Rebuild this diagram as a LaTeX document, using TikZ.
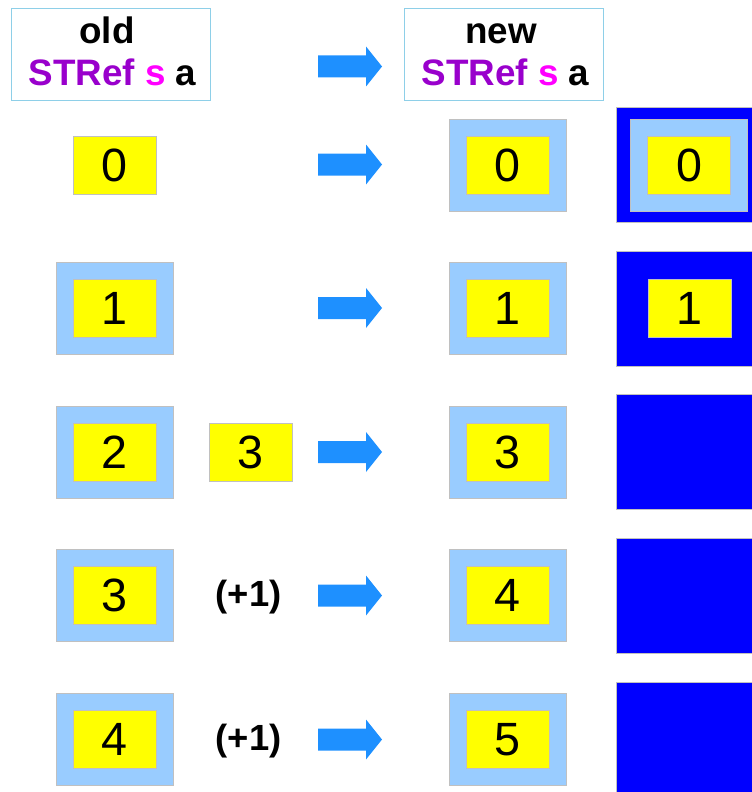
\documentclass[tikz,border=0pt]{standalone}
\usepackage{fontspec}
\setmainfont{Liberation Sans}
\definecolor{cellyellow}{HTML}{FFFF00}
\definecolor{cellsky}{HTML}{99CCFF}
\definecolor{cellblue}{HTML}{0000FF}
\definecolor{edgegray}{HTML}{C0C0C0}
\definecolor{hdredge}{HTML}{8ECFE8}
\definecolor{arrowblue}{HTML}{1E90FF}
\definecolor{refpurple}{HTML}{9900CC}
\definecolor{refmagenta}{HTML}{FF00FF}
\newdimen\pxu \pxu=0.75pt
\begin{document}
\begin{tikzpicture}[x=0.75pt,y=-0.75pt,
  cell/.style={draw=edgegray, line width=0.75pt, inner sep=0pt},
  ybox/.style={cell, fill=cellyellow, minimum width=83\pxu, minimum height=58\pxu,
    font=\fontsize{35pt}{40pt}\selectfont},
  lbox/.style={cell, fill=cellsky, minimum width=117\pxu, minimum height=92\pxu},
  bbox/.style={cell, fill=cellblue, minimum width=145\pxu, minimum height=115\pxu},
  hdrbox/.style={draw=hdredge, line width=0.75pt, inner sep=0pt,
    minimum width=199\pxu, minimum height=91\pxu},
  hdrtxt/.style={anchor=base, inner sep=0pt, font=\fontsize{27.6pt}{32pt}\selectfont\bfseries},
  bumptxt/.style={inner sep=0pt, font=\fontsize{27.3pt}{32pt}\selectfont\bfseries},
  fatarrow/.pic={\fill[arrowblue] (-32,-11) -- (16,-11) -- (16,-20) -- (32,0)
    -- (16,20) -- (16,11) -- (-32,11) -- cycle;}
]
\useasboundingbox (0,0) rectangle (752,792);
\clip (0,0) rectangle (752,792);

% column headers
\node[hdrbox] (oldframe) at (111,54.5) {};
\node[hdrtxt] (oldA) at (107,43.3) {old};
\node[hdrtxt] (oldB) at (112.5,85) {\textcolor{refpurple}{STRef} \textcolor{refmagenta}{s} a};
\pic at (350,66.5) {fatarrow};
\node[hdrbox] (newframe) at (504,54.5) {};
\node[hdrtxt] (newA) at (501,43.3) {new};
\node[hdrtxt] (newB) at (505.5,85) {\textcolor{refpurple}{STRef} \textcolor{refmagenta}{s} a};

% row 0
\node[ybox] (o0) at (114.7,165) {0};
\pic at (350,164.5) {fatarrow};
\node[lbox] (n0f) at (507.7,165) {};
\node[ybox] (n0) at (507.7,165) {0};
\node[bbox] (m0b) at (689.3,164.5) {};
\node[lbox] (m0f) at (689.3,165) {};
\node[ybox] (m0) at (689.3,165) {0};

% row 1
\node[lbox] (o1f) at (114.7,308.5) {};
\node[ybox] (o1) at (114.7,308.5) {1};
\pic at (350,308) {fatarrow};
\node[lbox] (n1f) at (507.7,308.5) {};
\node[ybox] (n1) at (507.7,308.5) {1};
\node[bbox] (m1b) at (689.3,308.5) {};
\node[ybox] (m1) at (689.5,308.5) {1};

% row 2
\node[lbox] (o2f) at (114.7,452) {};
\node[ybox] (o2) at (114.7,452) {2};
\node[ybox] (x2) at (250.5,452) {3};
\pic at (350,452) {fatarrow};
\node[lbox] (n2f) at (507.7,452) {};
\node[ybox] (n2) at (507.7,452) {3};
\node[bbox] (m2b) at (689.3,452) {};

% row 3
\node[lbox] (o3f) at (114.7,595.5) {};
\node[ybox] (o3) at (114.7,595.5) {3};
\node[bumptxt] (x3) at (248.7,597.5) {(+1)};
\pic at (350,595.5) {fatarrow};
\node[lbox] (n3f) at (507.7,595.5) {};
\node[ybox] (n3) at (507.7,595.5) {4};
\node[bbox] (m3b) at (689.3,595.5) {};

% row 4
\node[lbox] (o4f) at (114.7,739.5) {};
\node[ybox] (o4) at (114.7,739.5) {4};
\node[bumptxt] (x4) at (248.7,741.5) {(+1)};
\pic at (350,739.5) {fatarrow};
\node[lbox] (n4f) at (507.7,739.5) {};
\node[ybox] (n4) at (507.7,739.5) {5};
\node[bbox] (m4b) at (689.3,739.5) {};
\end{tikzpicture}
\end{document}
